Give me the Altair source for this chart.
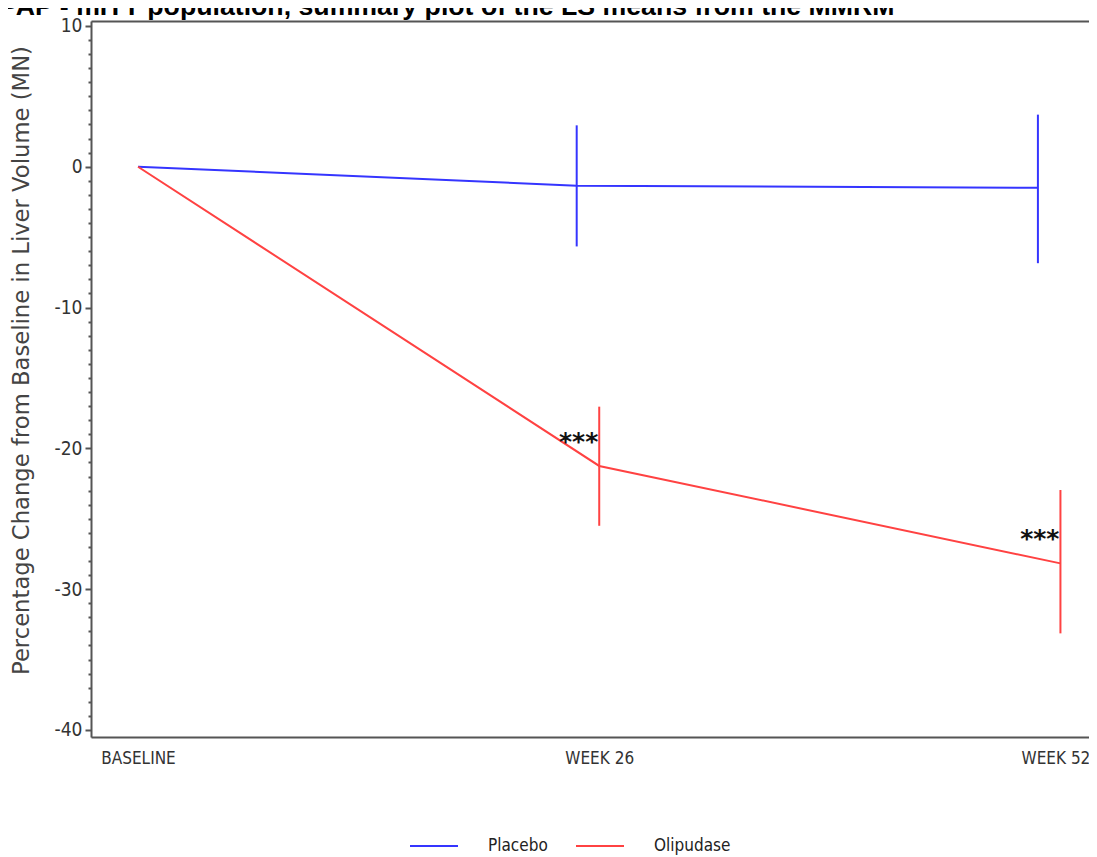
import altair as alt
import pandas as pd

# ---- data ----
title_text = "PAP - mITT population, summary plot of the LS means from the MMRM"
visits = ["BASELINE", "WEEK 26", "WEEK 52"]
visit_weeks = [0, 26, 52]
placebo_dodge = [0, -1.27, -1.27]          # placebo points drawn slightly left
placebo_mean = [0.0, -1.35, -1.50]
placebo_lower = [None, -5.66, -6.85]
placebo_upper = [None, 2.94, 3.70]
olip_mean = [0.0, -21.25, -28.17]
olip_lower = [None, -25.50, -33.14]
olip_upper = [None, -17.04, -22.96]
olip_flag = ["", "***", "***"]
treatments = ["Placebo", "Olipudase"]
colors = ["#3535ff", "#ff4242"]

rows = []
for i, v in enumerate(visits):
    rows.append(dict(treatment="Placebo", visit=v, week=visit_weeks[i] + placebo_dodge[i],
                     mean=placebo_mean[i], lower=placebo_lower[i], upper=placebo_upper[i], flag=""))
for i, v in enumerate(visits):
    rows.append(dict(treatment="Olipudase", visit=v, week=visit_weeks[i],
                     mean=olip_mean[i], lower=olip_lower[i], upper=olip_upper[i], flag=olip_flag[i]))
df = pd.DataFrame(rows)

NARROW = "Liberation Sans Narrow, DejaVu Sans Condensed, Arial Narrow, sans-serif"

label_expr = " : ".join(
    [f"datum.value == {w} ? '{v}'" for w, v in zip(visit_weeks, visits)]) + " : ''"

W, H = 998, 716
xscale = alt.Scale(domain=[-2.65, 53.61], nice=False, zero=False)
yscale = alt.Scale(domain=[-40.5, 10.35], nice=False, zero=False)

xaxis_bottom = alt.Axis(
    values=visit_weeks, labelExpr=label_expr, ticks=False, grid=False,
    domainColor="#555555", domainWidth=2, labelFont=NARROW, labelFontSize=17,
    labelColor="#333333", labelPadding=13, title=None, labelFlush=False,
    labelOffset={"condition": {"test": f"datum.value == {visit_weeks[-1]}", "value": -5}, "value": 0},
)
xaxis_top = alt.Axis(
    orient="top", labels=False, ticks=False, grid=False, title=None,
    domainColor="#555555", domainWidth=2,
)
yaxis = alt.Axis(
    values=list(range(-40, 11)),
    labelExpr="datum.value % 10 === 0 ? '' + datum.value : ''",
    labelOverlap=False, grid=False,
    tickSize={"condition": {"test": "datum.value % 10 === 0", "value": 6}, "value": 3},
    tickWidth=2, tickColor="#555555", domainColor="#555555", domainWidth=2,
    labelFont=NARROW, labelFontSize=19, labelColor="#333333", labelPadding=3,
    title="Percentage Change from Baseline in Liver Volume (MN)",
    titleFont="DejaVu Sans", titleFontSize=22.7, titleFontWeight="normal",
    titleColor="#444444", titleAngle=270, titleX=-70, titleY=339,
    titleAlign="center", titleBaseline="middle",
)

color = alt.Color(
    "treatment:N",
    scale=alt.Scale(domain=treatments, range=colors),
    legend=alt.Legend(
        title=None, orient="none", legendX=318, legendY=800, direction="horizontal",
        symbolType="stroke", symbolSize=2304, symbolStrokeWidth=2,
        labelFont=NARROW, labelFontSize=17, labelColor="#222222",
        labelOffset=29, columnPadding=24, padding=0,
    ),
)

base = alt.Chart(df)

lines = base.mark_line(strokeWidth=2).encode(
    x=alt.X("week:Q", scale=xscale, axis=xaxis_bottom),
    y=alt.Y("mean:Q", scale=yscale, axis=yaxis),
    color=color,
    order="week:Q",
)

bars = base.transform_filter("isValid(datum.lower)").mark_rule(strokeWidth=2).encode(
    x=alt.X("week:Q", scale=xscale, axis=xaxis_top),
    y=alt.Y("lower:Q", scale=yscale, axis=yaxis),
    y2="upper:Q",
    color=color,
)

stars = base.transform_filter("datum.flag != ''").mark_text(
    align="right", baseline="alphabetic", dx=-1, dy=-16,
    font="DejaVu Sans", fontSize=25, fontWeight="bold", color="#111111",
).encode(
    x=alt.X("week:Q", scale=xscale, axis=None),
    y=alt.Y("mean:Q", scale=yscale, axis=yaxis),
    text="flag:N",
)

title_layer = alt.Chart(pd.DataFrame({"t": [title_text]})).mark_text(
    align="left", baseline="alphabetic", font="Liberation Sans", fontSize=26.7,
    fontWeight="bold", color="#000000",
).encode(
    x=alt.value(-91), y=alt.value(-6), text="t:N",
)

chart = alt.layer(lines, bars, stars, title_layer).resolve_axis(x="independent").properties(
    width=W, height=H,
    autosize=alt.AutoSizeParams(type="none"),
    padding={"left": 83, "top": 13, "right": 0, "bottom": 118},
).configure_view(stroke=None).configure(background="white")

chart.save("out.html", embed_options={"renderer": "svg", "actions": False})
